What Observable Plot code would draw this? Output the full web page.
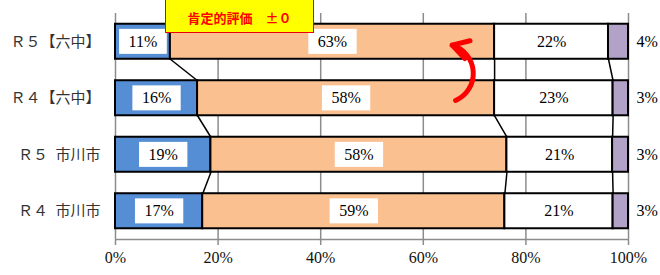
<!DOCTYPE html>
<html><head><meta charset="utf-8">
<script src="https://cdn.jsdelivr.net/npm/d3@7"></script>
<script src="https://cdn.jsdelivr.net/npm/@observablehq/plot@0.6"></script>
<style>
body{margin:0;background:#fff;}
#wrap{position:relative;width:660px;height:275px;overflow:hidden;}
#badge{position:absolute;left:165px;top:-3px;width:149px;height:36px;background:#ffff00;border:1.5px solid #e8000b;box-sizing:border-box;color:#ff0000;font:bold 13px "Noto Sans CJK JP";display:flex;align-items:center;justify-content:center;padding-top:4px;white-space:pre}
</style></head><body><div id="wrap"><div id="chart"></div><div id="badge">肯定的評価　±０</div></div>
<script>
// Rows (top to bottom)
const rows = ["Ｒ５【六中】", "Ｒ４【六中】", "Ｒ５\u2002市川市", "Ｒ４\u2002市川市"];
// Series values (%) per row
const seriesA = [10.7, 16.0, 18.6, 17.0];   // blue
const seriesB = [63.2, 57.9, 57.7, 58.9];   // orange
const seriesC = [22.2, 23.1, 20.6, 21.1];   // white
const seriesD = [3.9, 3.0, 3.1, 3.0];       // purple
const seriesColors = ["#558ed5", "#fac090", "#ffffff", "#b3a2c7"];
const xTicks = [0, 20, 40, 60, 80, 100];
// Annotation arrow (data coords: x in %, y in row index)
const arrowSpec = [{x1: 66.3, y1: 1.04, x2: 65.6, y2: 0.06}];

const serif = "'Liberation Serif', 'DejaVu Serif', serif";
const allSeries = [seriesA, seriesB, seriesC, seriesD];
const segs = [];
const cumEnds = rows.map(() => []);
rows.forEach((r, i) => {
  let cum = 0;
  allSeries.forEach((s, k) => {
    const v = s[i];
    segs.push({row: i, k, x1: cum, x2: cum + v, label: Math.round(v) + "%"});
    cum += v;
    cumEnds[i].push(cum);
  });
});
const half = 0.31;
const links = [];
for (let k = 0; k < 3; k++) {
  for (let i = 0; i < rows.length - 1; i++) {
    links.push({x1: cumEnds[i][k], y1: i + half, x2: cumEnds[i + 1][k], y2: i + 1 - half});
  }
}

const chart = Plot.plot({
  width: 660,
  height: 275,
  marginLeft: 115,
  marginRight: 32,
  marginTop: 13,
  marginBottom: 36,
  style: {fontFamily: serif, fontSize: "16px", background: "#fff"},
  x: {domain: [0, 100]},
  y: {domain: [-0.5, 3.5], reverse: true},
  marks: [
    Plot.gridX(xTicks, {stroke: "#8c8c8c", strokeOpacity: 1, strokeWidth: 1.5}),
    Plot.ruleY([3.5], {stroke: "#8c8c8c", strokeWidth: 1.5}),
    Plot.axisX({ticks: xTicks, tickFormat: d => d + "%", tickSize: 6, stroke: "#8c8c8c", strokeWidth: 1.5, fill: "#111", tickPadding: 6, fontSize: 16, fontFamily: serif, label: null}),
    Plot.axisY({ticks: [0, 1, 2, 3], tickFormat: i => rows[i], tickSize: 0, tickPadding: 15, fontSize: 15, fill: "#333", fontFamily: "'Noto Sans CJK JP', sans-serif", label: null}),
    Plot.rect(segs, {x1: "x1", x2: "x2", y1: d => d.row - half, y2: d => d.row + half, fill: d => seriesColors[d.k], stroke: "#000", strokeWidth: 2}),
    Plot.link(links, {x1: "x1", y1: "y1", x2: "x2", y2: "y2", stroke: "#000", strokeWidth: 1.5}),
    Plot.text(segs.filter(d => d.k < 3), {x: d => (d.x1 + d.x2) / 2, y: "row", text: "label", fill: "#000", fontSize: 16, fontFamily: serif}),
    Plot.text(segs.filter(d => d.k === 3), {x: "x2", y: "row", text: "label", fill: "#000", fontSize: 16, fontFamily: serif, textAnchor: "start", dx: 8}),
    Plot.arrow(arrowSpec, {x1: "x1", y1: "y1", x2: "x2", y2: "y2", bend: -70, stroke: "#ff0000", strokeWidth: 5, headLength: 16})
  ]
});
document.getElementById("chart").appendChild(chart);

// white boxes behind in-bar labels (first text mark)
const g = chart.querySelectorAll('g[aria-label="text"]')[0];
if (g) {
  g.querySelectorAll("text").forEach(t => {
    const bb = t.getBBox();
    const rect = document.createElementNS("http://www.w3.org/2000/svg", "rect");
    const px = 9.5, py = 4;
    rect.setAttribute("x", bb.x - px);
    rect.setAttribute("y", bb.y - py);
    rect.setAttribute("width", bb.width + 2 * px);
    rect.setAttribute("height", bb.height + 2 * py);
    rect.setAttribute("fill", "#fff");
    rect.setAttribute("stroke", "none");
    if (t.getAttribute("transform")) rect.setAttribute("transform", t.getAttribute("transform"));
    t.parentNode.insertBefore(rect, t);
  });
}
</script></body></html>
